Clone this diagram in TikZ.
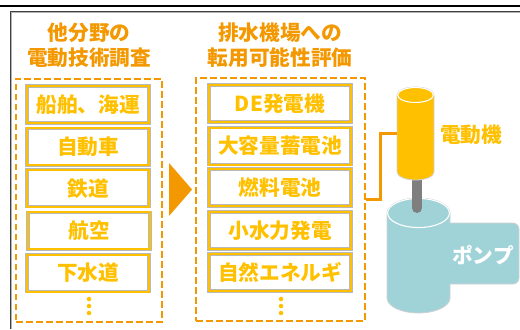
\documentclass[tikz,border=0pt]{standalone}
\usepackage{fontspec}
\setmainfont{Noto Sans CJK JP}
\definecolor{orangeT}{HTML}{F39800}
\definecolor{yellowT}{HTML}{FFC000}
\definecolor{pumpC}{HTML}{A0D3D8}
\definecolor{shaftC}{HTML}{7F7F7F}
\begin{document}
\begin{tikzpicture}[x=0.75pt,y=-0.75pt,
  title/.style={text=orangeT, font=\bfseries\fontsize{15.5pt}{18.75pt}\selectfont, align=center, inner sep=0pt},
  item/.style={draw=gray!55, double=yellowT, double distance=1.5pt, line width=0.4pt,
    minimum height=27.75pt, inner sep=0pt, text=yellowT,
    font=\bfseries\fontsize{15.5pt}{18pt}\selectfont},
  leftitem/.style={item, minimum width=91.5pt},
  rightitem/.style={item, minimum width=106.5pt},
  group/.style={draw=orangeT, line width=1.5pt, dash pattern=on 5pt off 2.5pt, minimum height=182.25pt, inner sep=0pt},
  dot/.style={fill=yellowT},
  label/.style={font=\bfseries\fontsize{15.5pt}{18pt}\selectfont, inner sep=0pt}
]
\useasboundingbox (0,0) rectangle (520,329);

% page rule and frame
\draw[line width=1.5pt, black] (0,5.5) -- (520,5.5);
\draw[line width=1.1pt, black!75] (520,11.5) -- (10.5,11.5) -- (10.5,329);
\draw[line width=0.6pt, black!30] (520,12.8) -- (11.8,12.8) -- (11.8,329);

% column titles
\node[title] (ltitle) at (89,45.5) {他分野の\\電動技術調査};
\node[title] (rtitle) at (280,45.5) {排水機場への\\転用可能性評価};

% dashed groups
\node[group, minimum width=109.5pt] (lbox) at (89,200) {};
\node[group, minimum width=126.75pt] (rbox) at (280.5,199.5) {};

% left column items
\node[leftitem] (l1) at (88,104.5) {船舶、海運};
\node[leftitem] (l2) at (88,146.7) {自動車};
\node[leftitem] (l3) at (88,188.4) {鉄道};
\node[leftitem] (l4) at (89,230.8) {航空};
\node[leftitem] (l5) at (88,273) {下水道};
\fill[dot] (89,299) circle[radius=1.7pt] (89,306) circle[radius=1.7pt] (89,313) circle[radius=1.7pt];

% right column items
\node[rightitem] (r1) at (280,103.5) {DE発電機};
\node[rightitem] (r2) at (280,146) {大容量蓄電池};
\node[rightitem] (r3) at (280,187.5) {燃料電池};
\node[rightitem] (r4) at (280,230.5) {小水力発電};
\node[rightitem] (r5) at (280,272.5) {自然エネルギ};
\fill[dot] (281,299) circle[radius=1.7pt] (281,306) circle[radius=1.7pt] (281,313) circle[radius=1.7pt];

% arrow between the columns
\fill[orangeT] (169,163) -- (192,189.5) -- (169,216) -- cycle;

% pump: cylinder with outlet
\filldraw[fill=pumpC, draw=gray!35, line width=0.6pt]
  (387,213) -- (387,298) arc[start angle=180, end angle=360, x radius=23.625pt, y radius=11.25pt]
  -- (450,213) arc[start angle=0, end angle=180, x radius=23.625pt, y radius=11.25pt] -- cycle;
\fill[pumpC] (448,223) -- (513,223) arc[start angle=90, end angle=0, radius=4.5pt]
  -- (519,278) arc[start angle=0, end angle=-90, radius=4.5pt] -- (448,284) -- cycle;
\draw[gray!35, line width=0.6pt] (450,223) -- (513,223) arc[start angle=90, end angle=0, radius=4.5pt]
  -- (519,278) arc[start angle=0, end angle=-90, radius=4.5pt] -- (450,284);
\draw[white, line width=0.8pt] (418.5,213) ellipse[x radius=23.2pt, y radius=10.9pt];
\node[label, text=white] (pump) at (483,255) {ポンプ};

% shaft
\draw[shaftC, line width=7.5pt, line cap=round] (417,172) -- (417,208);

% motor cylinder
\filldraw[fill=yellowT, draw=gray!35, line width=0.6pt]
  (397,95) -- (397,172) arc[start angle=180, end angle=360, x radius=13.875pt, y radius=6pt]
  -- (434,95) arc[start angle=0, end angle=180, x radius=13.875pt, y radius=6pt] -- cycle;
\draw[white, line width=0.8pt] (415.5,95) ellipse[x radius=13.4pt, y radius=5.6pt];
\node[minimum width=27.75pt, minimum height=69.75pt, inner sep=0pt] (motor) at (415.5,133.5) {};
\node[label, text=yellowT] (mlabel) at (471,135) {電動機};

% connector from the evaluation group to the motor
\draw[orangeT, line width=2.25pt] (rbox.east) -- ++(14,0) |- (motor.west);
\end{tikzpicture}
\end{document}
